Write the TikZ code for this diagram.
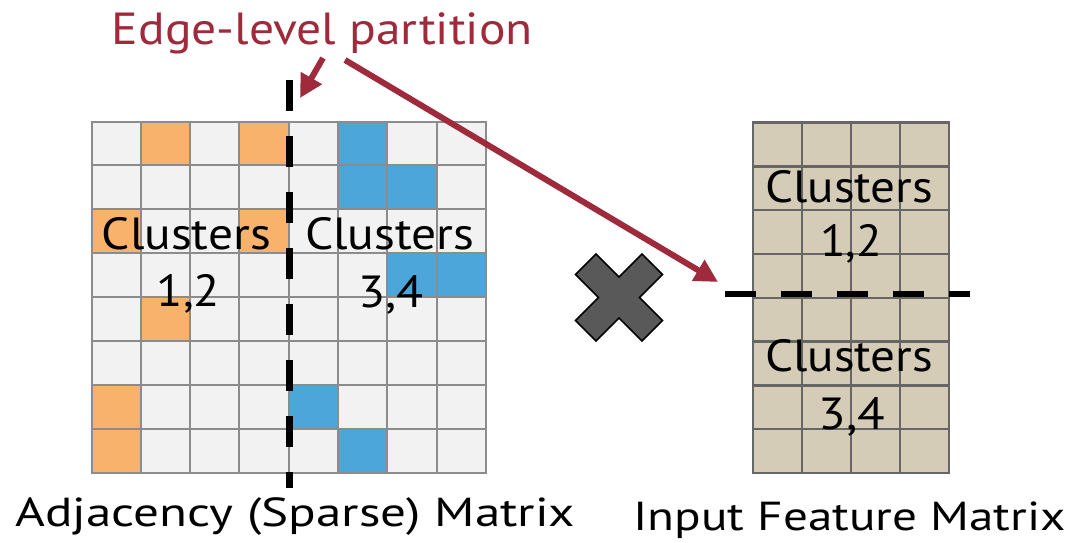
\documentclass[tikz,border=0pt]{standalone}
\usepackage{fontspec}
\setmainfont{PT Sans}
\usepackage{graphicx}
\usetikzlibrary{arrows.meta}
\definecolor{cellbg}{HTML}{F2F2F2}
\definecolor{gridgray}{HTML}{8C8C8C}
\definecolor{orangecell}{HTML}{F9B26B}
\definecolor{bluecell}{HTML}{4DA6DA}
\definecolor{tanbg}{HTML}{D5CCB7}
\definecolor{tangrid}{HTML}{666666}
\definecolor{darkred}{HTML}{9E2A3B}
\definecolor{xgray}{HTML}{595959}
\newcommand\fitw[2]{\resizebox{#1pt}{\height}{#2}}
\begin{document}
\begin{tikzpicture}[x=1pt,y=-1pt,
  lbl/.style={inner sep=0pt, anchor=base west, font=\fontsize{45}{50}\selectfont},
  biglbl/.style={inner sep=0pt, anchor=base west, font=\fontsize{40.5}{45}\selectfont},
  titlelbl/.style={inner sep=0pt, anchor=base west, text=darkred, font=\fontsize{45}{50}\selectfont},
  leftgrid/.style={draw=gridgray, line width=2pt},
  rightgrid/.style={draw=tangrid, line width=2.5pt},
  partline/.style={draw=black, line width=7pt, dash pattern=on 31pt off 25pt},
  redarrow/.style={draw=darkred, line width=6pt, -{Triangle[length=23pt,width=23pt]}},
  crossshape/.style={fill=xgray, draw=black, line width=1.5pt, line join=miter}
]
\useasboundingbox (0,0) rectangle (1079,543);

% ---------- left adjacency matrix ----------
\fill[cellbg] (91.5,121.5) rectangle (486,472.5);
\foreach \r/\c in {0/1,0/3,2/0,2/3,4/1,6/0,7/0}
  \fill[orangecell] ({91.5+\c*49.3125},{121.5+\r*43.875}) rectangle ++(49.3125,43.875);
\foreach \r/\c in {0/5,1/5,1/6,3/6,3/7,6/4,7/5}
  \fill[bluecell] ({91.5+\c*49.3125},{121.5+\r*43.875}) rectangle ++(49.3125,43.875);
\foreach \i in {0,...,8}
  \draw[leftgrid] ({91.5+\i*49.3125},121.5) -- ++(0,351);
\foreach \i in {0,...,8}
  \draw[leftgrid] (90.5,{121.5+\i*43.875}) -- ++(396.5,0);

\node[lbl] (cl12) at (101.7,249) {\fitw{169}{Clusters}};
\node[lbl] (n12) at (156.7,306.7) {\fitw{63.3}{1,2}};
\node[lbl] (cl34) at (305,249) {\fitw{169.3}{Clusters}};
\node[lbl] (n34) at (358,307) {\fitw{65.3}{3,4}};

% ---------- right feature matrix ----------
\fill[tanbg] (753,122.5) rectangle (949,473);
\foreach \i in {0,...,4}
  \draw[rightgrid] ({753+\i*49},122.5) -- ++(0,350.5);
\foreach \i in {0,...,8}
  \draw[rightgrid] (751.75,{122.5+\i*43.8125}) -- ++(198.5,0);

\node[lbl] (fcl12) at (765,202) {\fitw{168}{Clusters}};
\node[lbl] (f12) at (820,256.7) {\fitw{61.7}{1,2}};
\node[lbl] (fcl34) at (765,371.7) {\fitw{168}{Clusters}};
\node[lbl] (f34) at (818.5,429) {\fitw{66.7}{3,4}};

% ---------- partition lines ----------
\coordinate (vtop) at (289,80);
\coordinate (vbot) at (289,488);
\draw[partline] (vtop) -- (vbot);
\coordinate (hleft) at (725,293.5);
\coordinate (hright) at (970,293.5);
\draw[partline, line width=6pt] (hleft) -- (hright);

% ---------- multiplication cross ----------
\draw[crossshape, shift={(619,297.5)}, rotate=45]
  (14.5,14.5) -- (47,14.5) -- (47,-14.5) -- (14.5,-14.5) -- (14.5,-47) -- (-14.5,-47)
  -- (-14.5,-14.5) -- (-47,-14.5) -- (-47,14.5) -- (-14.5,14.5) -- (-14.5,47) -- (14.5,47) -- cycle;

% ---------- title and arrows ----------
\node[titlelbl] (title) at (111.7,45) {\fitw{421}{Edge-level partition}};
\coordinate (a1s) at (323,58);
\coordinate (a1e) at (300,98);
\coordinate (a2s) at (345,60);
\coordinate (a2e) at (718,282);
\draw[redarrow] (a1s) -- (a1e);
\draw[redarrow] (a2s) -- (a2e);

% ---------- bottom labels ----------
\node[biglbl] (adj) at (15,526.7) {\fitw{560}{Adjacency (Sparse) Matrix}};
\node[biglbl] (feat) at (633.3,530) {\fitw{432}{Input Feature Matrix}};
\end{tikzpicture}
\end{document}
